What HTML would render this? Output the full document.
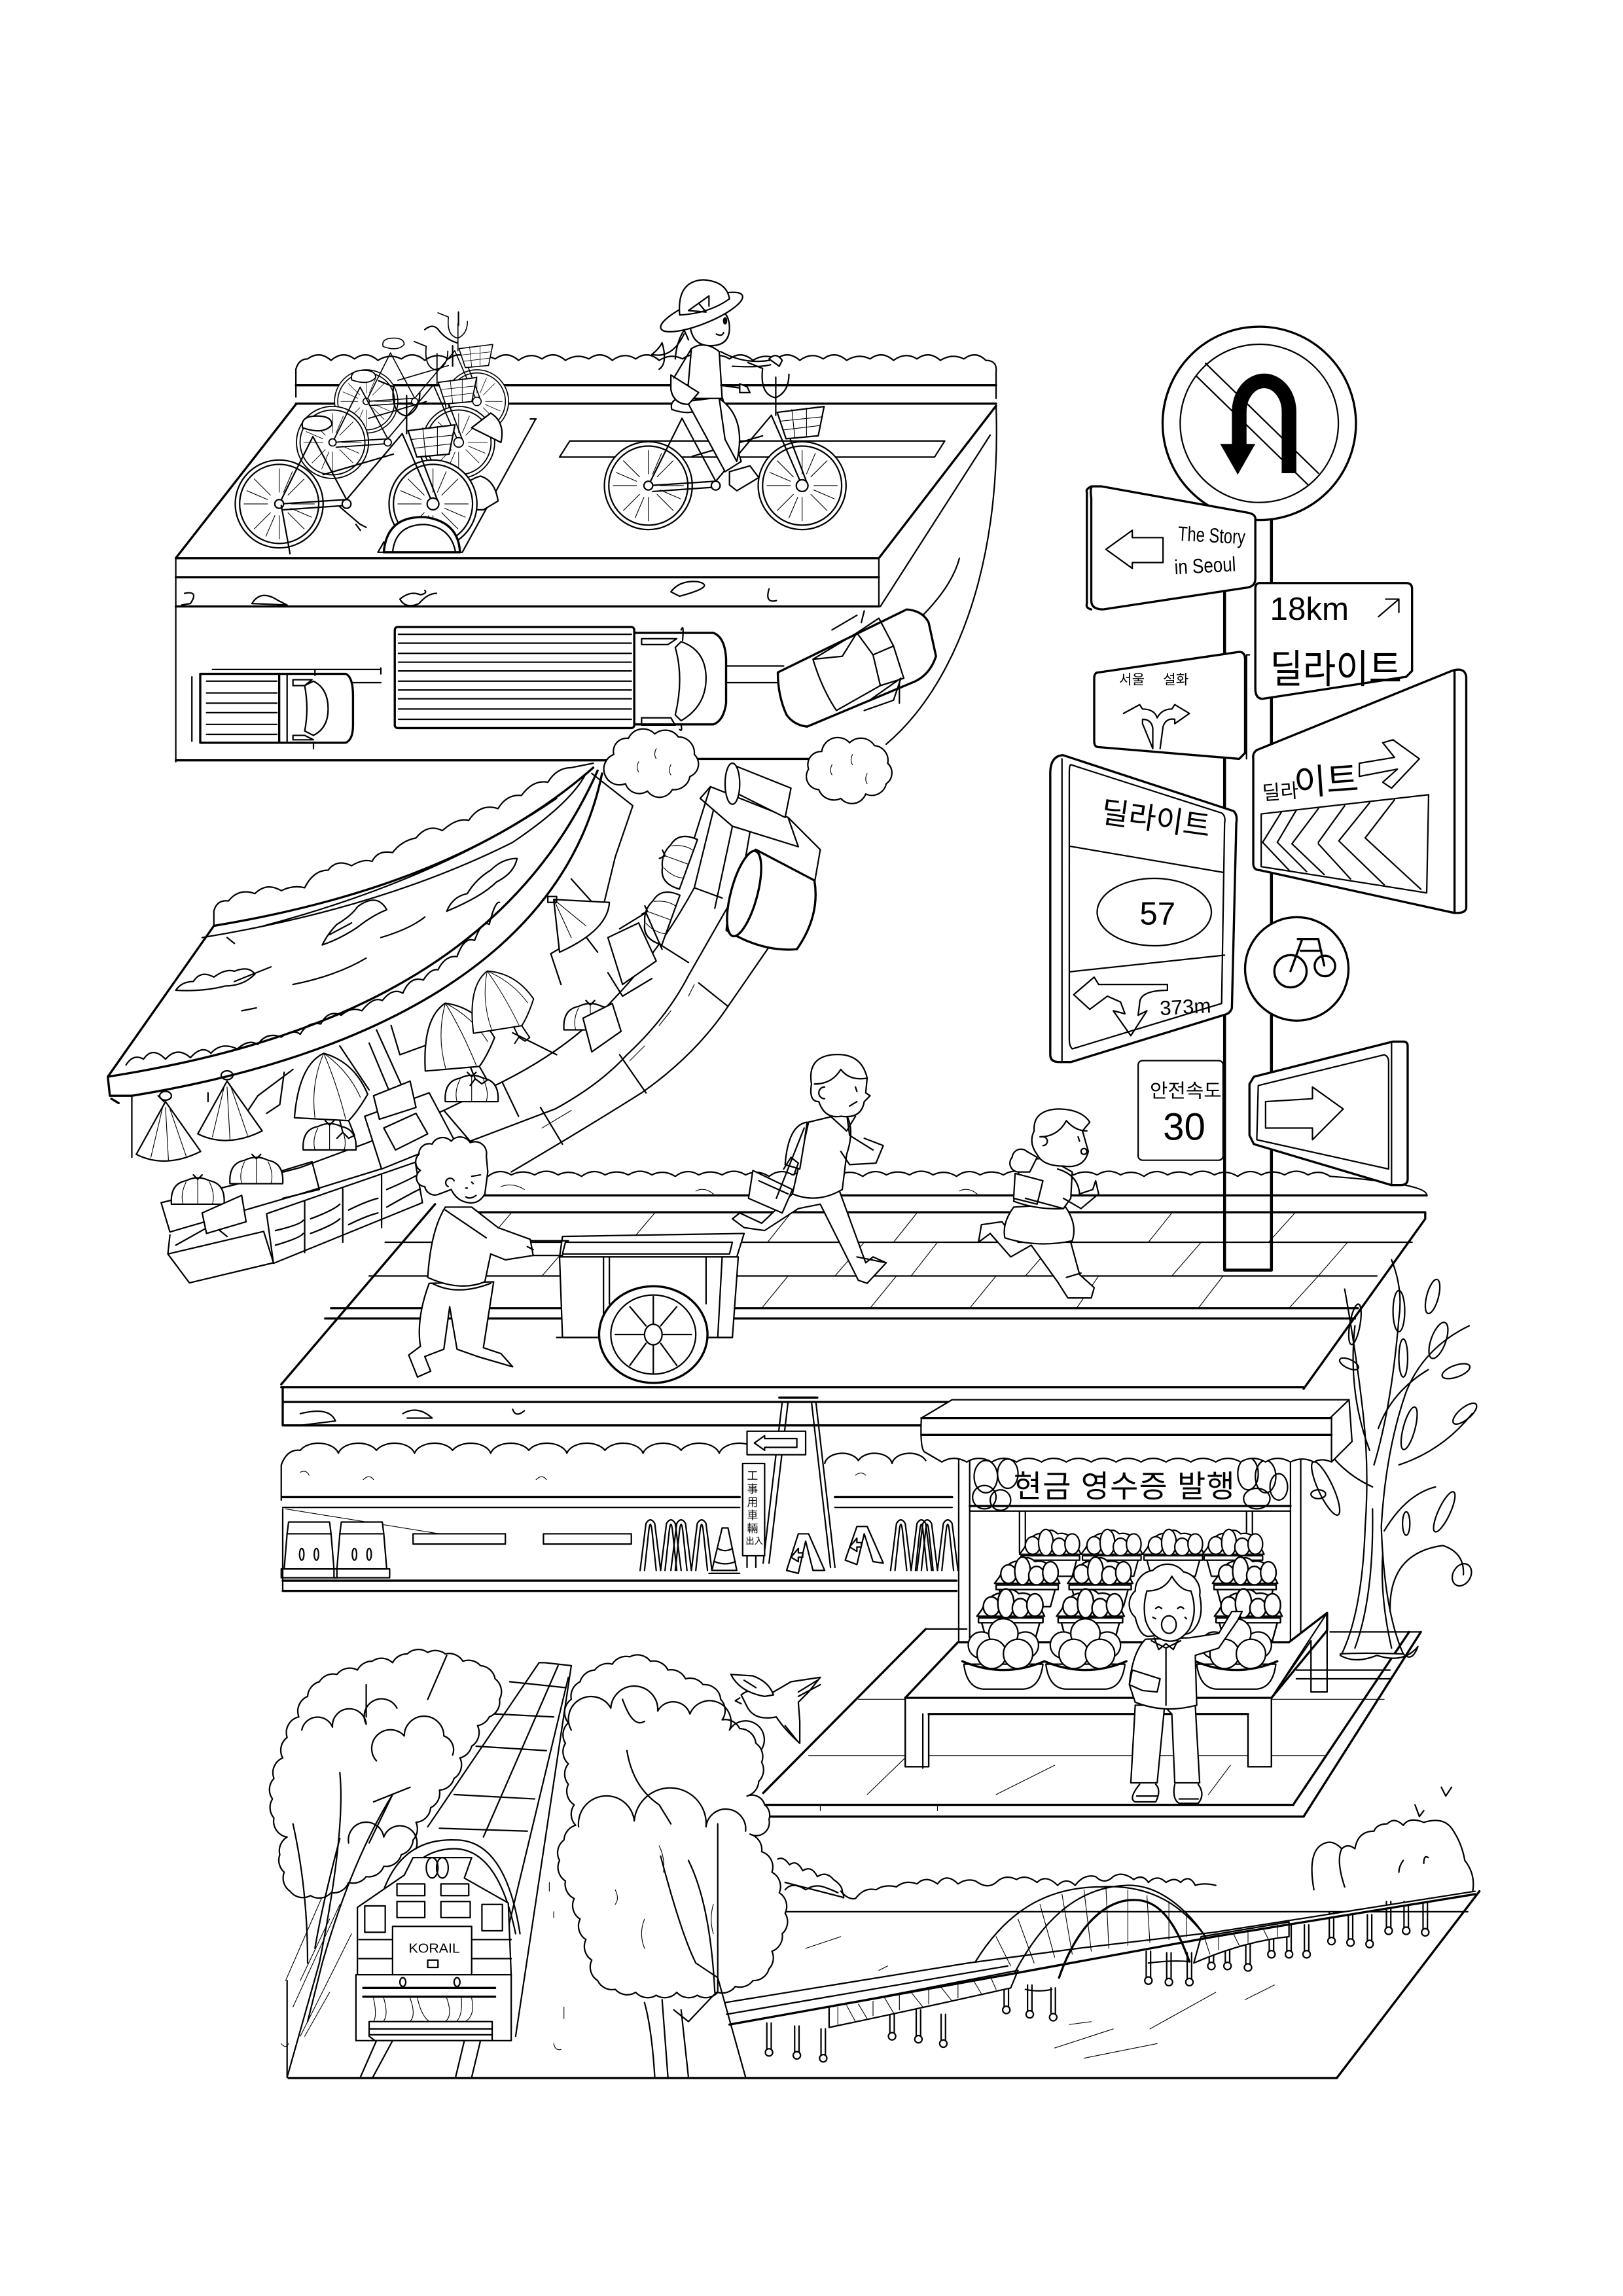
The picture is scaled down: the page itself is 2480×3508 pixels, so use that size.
<!DOCTYPE html>
<html><head><meta charset="utf-8"><style>
html,body{margin:0;padding:0;background:#fff}
svg{display:block}
.t{fill:#000;stroke:none;font-family:"Liberation Sans","Noto Sans CJK KR",sans-serif}
.f{fill:#fff}
.n{stroke-width:.5}
.b{stroke-width:1.5}
</style></head><body>
<svg xmlns="http://www.w3.org/2000/svg" width="2480" height="3508" viewBox="0 0 1108 1567.3">
<defs>
<g id="wheel"><circle r="30" class="f"/><circle r="27"/><path class="n" d="M0-8V-24M0 8V24M-8 0H-24M8 0H24M6-6L17-17M-6 6L-17 17M6 6L17 17M-6-6L-17-17M3-8L9-22M-3 8L-9 22M8 3L22 9M-8-3L-22-9"/></g>
<g id="bike"><use href="#wheel"/><use href="#wheel" x="105" y="0"/>
<path d="M0 0L46-3L23-46M0 0L23-46M3 4L46 1M46-3L84-48M30-20L78-34M84-48L105 0M90-50L109 0M87-48V-74M87-60Q76-62 78-80L68-84M87-60Q96-64 96-76"/>
<path class="f" d="M16-52Q14-60 26-60Q36-60 36-54Q30-47 16-52Z"/>
<path class="f" d="M88-50L120-54L116-34L94-32Z"/><path class="n" d="M90-44L119-47M92-38L117-41M98-52L100-33M108-53L108-33"/>
<circle cx="46" r="3" class="f"/><circle r="3" class="f"/><circle cx="105" r="4" class="f"/></g>
<g id="sack"><path class="f" d="M0-30L-20 6Q0 16 24 4Z"/><path class="n" d="M-2-26L-10 8M0-26L2 10M3-25L14 7"/><path d="M-4-34a4 3 0 1 1 8 0a4 3 0 1 1-8 0"/></g>
<g id="sack2"><path class="f" d="M-3-36Q-20-28-23 8L14 10Q20 4 27-8Q18-30-3-36Z"/><path class="n" d="M-3-36Q-12-15-9 8M-3-36Q6-15 12 9M-3-36Q14-24 22-6"/><path d="M8 10L10 18L6 22M14 10L18 20M10 18L14 22L18 20"/></g>
<g id="bag"><path class="f" d="M-18 0Q-19-14-8-16Q0-20 8-16Q19-14 18 0Z"/><path class="n" d="M-8-15Q-12-7-10 0M0-18V0M8-15Q12-7 10 0"/><path d="M-3-20L0-17L3-20"/></g>
<g id="fruit"><path class="f" d="M-21 0L-18-4Q-12-16-4-14Q0-19 5-14Q13-16 18-6L21 0Z"/><ellipse cx="-12" cy="-6" rx="5" ry="6" class="f"/><ellipse cx="-3" cy="-8" rx="5" ry="9" class="f"/><ellipse cx="6" cy="-5" rx="5" ry="6" class="f"/><ellipse cx="15" cy="-7" rx="5" ry="7" class="f"/>
<path class="f" d="M-20 1H20V4H-20ZM-18 4L-15 15H15L18 4Z"/></g>
<g id="orange"><path class="f" d="M-27 4Q-25 20-14 21H14Q25 20 27 4Z"/><circle cx="-15" cy="-9" r="9" class="f"/><circle cx="15" cy="-9" r="9" class="f"/><circle cx="0" cy="-17" r="10" class="f"/><circle cx="-8" cy="-3" r="10" class="f"/><circle cx="10" cy="-3" r="10" class="f"/><path class="b" d="M-28 2Q0 14 28 2"/></g>
<g id="pier"><path d="M-1.500-4V14M1.500-4V14"/><ellipse cy="16" rx="2.500" ry="2.500" class="f"/></g>
<g id="arch"><path d="M0 34L4 2Q7-3 10 2L14 34M3 34L6 6Q7-1 8 6L11 34M14 34L18 2Q21-3 24 2L28 34M17 34L20 6Q21-1 22 6L25 34"/></g>
<g id="barrel"><path class="f" d="M2 0H30L31 8L33 32H-1L1 8Z"/><path d="M1 8H31M-3 32H35V38H-3Z"/><ellipse cx="11" cy="22" rx="1.500" ry="4"/><ellipse cx="21" cy="22" rx="1.500" ry="4"/></g>
</defs>
<rect width="1108" height="1567.3" fill="#fff"/>
<g fill="none" stroke="#000" stroke-width="1" stroke-linecap="round" stroke-linejoin="round">

<!-- TOP ROAD -->
<path d="M202 271V252Q204 245 210 245q8-6 16 1q8-7 16-1q8-6 16 1q8-5 16-1q8-6 16 1q8-6 16-1q8-6 16 1q8-5 16-1q8-6 16 1q8-6 16-1q8-6 16 1q8-5 16-1q8-6 16 1q8-6 16-1q8-6 16 1q8-5 16-1q8-6 16 1q8-6 16-1q8-6 16 1q8-5 16-1q8-6 16 1q8-6 16-1q8-6 16 1q8-5 16-1q8-6 16 1q8-6 16-1q8-6 16 1q8-5 16-1q8-6 15 1Q681 246 680 254V272"/>
<path class="b" d="M202 263H680M202 275.500H680"/>
<path class="b" d="M120 381L202 276M680 277L600 381M120 381H600M120 394H600M120 414H600"/>
<path d="M120 381V520M600 381V414M676 297L601 414M680 277C684 390 650 470 605 508M655 381Q650 400 629 421"/>
<path class="b" d="M120 519H415M470 518H555"/>
<path d="M389 301H645L638 312H382ZM365.700 286L315.600 377H258L262 370M362 286H366"/>
<path d="M126 405Q136 403 130 412L124 413M172 412Q178 402 190 410L196 413ZM273 409Q280 403 287 406Q292 405 290 403M273 409Q277 416 286 412Q292 405 298 405M458 404Q464 396 476 397Q490 400 464 407ZM525 402Q522 412 530 410"/>
<!-- big truck -->
<rect x="269.500" y="428" width="163.500" height="69" rx="2" class="f b"/>
<path d="M272 433H431M272 439H431M272 446H431M272 452H431M272 458H431M272 465H431M272 471H431M272 477H431M272 484H431M272 491H431"/>
<path class="f b" d="M433 432H487Q495 435 495.700 450V480Q494 492 487 494.500H433Z"/>
<path d="M465 438Q482 444 482 463Q482 482 465 492L461 488Q467 463 461 442ZM438 436H462L456 440H438ZM438 490H458L461 495H438ZM465 430Q467 425 466 437M465 495Q466 500 464 498"/>
<!-- small truck -->
<path d="M145 457H260M260 456V460M240 466H260M496 454.600H535M496 466H531"/>
<rect x="136.700" y="460" width="54" height="47" class="f b"/>
<path d="M141 465H189M141 473H189M141 480H189M141 486.500H189M141 494.500H189M141 501.300H189M131 462V506"/>
<path class="f b" d="M190.600 460H236Q241 462 241 475V495Q241 505 236 507H190.600Z"/>
<path d="M214 465Q224 470 224 484Q224 497 214 502L208 499Q211 484 208 468ZM200 464H213L208 468H200ZM200 502H208L214 505H200ZM215 457L215 461M214 508L214 511M196 460V507"/>
<!-- car -->
<path class="f b" d="M531 459L619 416Q630 417 634 425L639 448Q635 460 625 465L551 496Q542 495 537 488Q531 475 531 459Z"/>
<path d="M555 450L585 432L596 447L601 468L571 485Q561 470 555 450ZM585 432L600 422L610 441L617 463L601 468M596 447L610 441M555 450L575 448L585 432M568 430L585 420M595 477L615 463L610 478L590 485M614 466V480M590 417L588 425"/>
<!-- puffs -->
<path class="f" d="M419 515a9 9 0 0 1 10-11a11 11 0 0 1 18-3a11 11 0 0 1 16 2a11 11 0 0 1 11 12a9 9 0 0 1-3 15a11 11 0 0 1-12 9a10 10 0 0 1-17 1a10 10 0 0 1-15-5a10 10 0 0 1-8-20Z"/>
<path class="f" d="M552 525a9 9 0 0 1 9-12a11 11 0 0 1 19-6a11 11 0 0 1 17 2a10 10 0 0 1 9 12a9 9 0 0 1-1 14a10 10 0 0 1-14 7a10 10 0 0 1-17 3a11 11 0 0 1-15-6a9 9 0 0 1-7-14Z"/>
<path class="n" d="M436 520q-2 4 0 7M448 511q-2 4 0 7M458 522q-2 4 0 7M568 522q-2 4 0 7M582 515q-2 4 0 7M592 528q-2 4 0 7"/>

<!-- BIKES PARKED -->
<g transform="translate(250 274) scale(.72)"><use href="#bike"/></g>
<g transform="translate(227 302) scale(.82)"><use href="#bike"/></g>
<path class="f" d="M335 282Q345 288 342 302L322 292Z"/>
<path class="f" d="M320 348Q310 330 328 325Q338 328 340 342L330 348Z"/>
<g transform="translate(190.600 344)"><use href="#bike"/></g>
<path class="f b" d="M262 377Q264 352 290 353Q313 356 314 377Z"/>
<path d="M268 377Q270 358 290 358Q308 360 311 377M192 345L198 378M232 346L246 358L250 360M243 358L246 362"/>
<path d="M290 225Q296 220 300 226Q305 232 312 234M313 213V222M309 250V236"/>

<!-- RIDER + BIKE -->
<g transform="translate(442.600 331.500)"><use href="#bike"/></g>
<path class="f" d="M469 274L493 271L506 315L495 322Z"/><path class="f" d="M491 272Q510 285 503 315L495 300Z"/>
<path class="f" d="M498 322L512 318L518 326L503 335L498 331Z"/>
<path class="f" d="M472 238Q481 232 491 240L493 272H469Z"/>
<path d="M492 240Q510 250 530 245M500 250Q518 251 526 249M492 263L506 265"/>
<path class="f" d="M458 256L477 268L470 276Q460 276 458 266Z"/>
<path d="M472 238L460 258"/>
<path class="f" d="M525 245Q530 240 534 246L532 250ZM505 262L510 264L512 268L505 268Z"/>
<path class="f" d="M471 221Q472 210 484 210Q498 210 498 224Q498 236 485 236Q472 236 471 221Z"/>
<path d="M467 228Q459 245 445 242Q450 238 452 234Q456 248 450 252M468 224Q462 232 461 245M462 218Q466 222 470 232"/>
<ellipse cx="495" cy="219" rx="1" ry="2" fill="#000"/><path d="M489 228Q493 230 494 227"/>
<ellipse cx="479" cy="213" rx="30" ry="8" transform="rotate(-22 479 213)" class="f"/>
<path class="f" d="M464 215Q462 192 480 191Q496 192 498 204Q484 214 464 215Z"/>
<path d="M470 212L477 207L482 213ZM477 207L484 202L484 209"/>

<!-- CURVED SECTION -->
<path d="M146 632V622Q148 614 156 615Q163 606 174 610Q182 602 192 608Q200 604 208 606Q214 594 224 594Q230 586 240 591Q248 586 254 588Q258 580 268 582Q274 574 284 572Q292 562 302 567Q312 558 320 560Q328 548 340 552Q346 542 356 543Q364 532 374 534Q380 524 390 524L405 521"/>
<path class="b" d="M146 632C230 618 330 590 405 524M73.600 735C200 715 345 668 408 526M90 748C250 722 385 655 411 528M73.600 735L146 632M73.600 735L75 748L90 748M76 750L81 753"/>
<path d="M138 640Q260 620 350 575Q390 548 400 528M155 640L160 644M180 632Q300 600 380 545"/>
<path d="M86 727q5-8 12-4q6-9 15 0q8-9 17-1q8-9 14-3q7-8 18-3q8-7 14-3q6-9 16-5q8-6 13-2q5-9 14-7q5-10 14-6q7-6 14-3q8-10 14-7q7-9 14-5q5-12 14-9q5-8 10-7q5-10 13-9q5-14 12-11q5-14 10-11q4-16 7-15"/>
<path d="M120 676q4-6 12-6q5-8 14-3q8-6 14-4q10-4 14 2q-8 8-20 8q-15 4-34 3ZM220 645q4-8 10-14q10-6 14-12q8-6 14-4q4 2 6 6q-10 4-20 12q-12 8-24 12ZM305 622q4-10 14-12q6-10 16-16q8-8 18-8q-2 10-14 16q-10 10-34 20ZM240 630L225 638M165 690L175 688M200 672q30-6 50-18M160 670L185 660M260 640q20-6 30-14"/>
<!-- shelf structure -->
<path d="M90 748V790M108 748L112 752M142 746V752"/>
<path d="M166 763L176 748L200 730M232 714L252 744M182 760L191 754L194 732M252 712L270 755M257 703L276 745M267 700L273 720L295 712M376 651L400 637M376 651L383 672M412 618L420 585L432 550L404 528M390 600L408 620M303 758L342 739Q390 715 418 683Q450 650 474 606L490 541"/>
<path d="M321 779L379 757Q410 740 428 720Q455 695 470 666L506 603L513 562M349 800Q400 770 438 746Q475 720 497 687L526 645L548 612"/>
<path d="M343 739L354 762M423 720L441 746M477 671L497 687M369 756L384 781M451 645L470 657M474 606L493 613M303 758L321 779M415 664L425 680L445 668M385 620L408 650M350 705L380 720"/>
<path d="M110 821L159 809L205 797L251 780L303 758M116 841L205 815L260 798M110 821L116 841"/>
<path class="f" d="M249 762L293 746L310 778L260.500 798Z"/><path d="M262 770L284 760L292 774L270 785Z"/>
<path class="f" d="M255 748L280 738L284 756L259 764Z"/>
<path class="f" d="M114.600 856L180 840.600L186.700 862L129.300 875.700Z"/>
<path class="f" d="M182 828.500L283.500 793.400L288.400 821L186.700 862.400Z"/>
<path d="M208 820V855M234 811.500V848M260.500 802V838M188 840Q205 836 207 833M188 850Q205 845 207 842M212 832Q228 826 232 822M212 842Q228 836 232 832M238 826Q250 820 258 818M238 836Q250 830 258 828M264 812Q278 806 285 802M264 824Q278 816 286 812M116 843L114.600 856M120 850L145 836L155 844M190 800L213 793L218 812L193 818"/>
<g transform="translate(113 782)"><use href="#sack"/></g>
<g transform="translate(155 768)"><use href="#sack"/></g>
<g transform="translate(135 822)"><use href="#bag"/></g>
<g transform="translate(175 808)"><use href="#bag"/></g>
<g transform="translate(225 785)"><use href="#bag"/></g>
<g transform="translate(322 752)"><use href="#bag"/></g>
<g transform="translate(403 703)"><use href="#bag"/></g>
<g transform="translate(224 755)"><use href="#sack2"/></g>
<g transform="translate(312 720) rotate(-8)"><use href="#sack2"/></g>
<g transform="translate(342 694) rotate(-12) scale(.9)"><use href="#sack2"/></g>
<path class="f" d="M378 614L416 616Q415 635 382 650Z"/><path class="n" d="M378 614L390 640M378 614L400 632M378 614L382 648"/><path d="M374 612h6v4h-6Z"/>
<g transform="translate(470 590) rotate(-70)"><use href="#bag"/></g>
<g transform="translate(458 628) rotate(-70)"><use href="#bag"/></g>
<path class="f" d="M138 828L165 816L168 834L141 842Z"/>
<path class="f" d="M415 640L436 630L448 656L425 672Z"/><path d="M423 634L441 623L452 648"/>
<path class="f" d="M398 695L418 685L424 704L404 718Z"/>
<path class="n" d="M430 724L440 714M450 700L458 690M470 680l4-8M370 770l20-12"/>
<!-- pots -->
<path class="f b" d="M496 635Q500 590 516 580L556 601Q560 625 544 648Q520 650 496 635Z"/>
<ellipse cx="508" cy="610" rx="9" ry="30" transform="rotate(15 508 610)" class="f b"/>
<path class="f" d="M478 545L485 537L538 558L545 578L500 564Z"/>
<path d="M485 537L474 572M500 564L488 620M538 558L560 580L556 603"/>
<path class="f" d="M500 522L540 538L536 558L500 540Z"/><ellipse cx="500" cy="535" rx="5" ry="14" class="f"/>

<!-- MIDDLE ROAD -->
<path d="M333 803q8-6 16-1q8-4 16 0q8-5 16 0q8-4 16 1q8-6 16-1q8-4 16 0q8-5 16 0q8-4 16 1q8-6 16-1q8-4 16 0q8-5 16 0q8-4 16 1q8-6 16-1q8-4 16 0q8-5 16 0q8-4 16 1q8-6 16-1q8-4 16 0q8-5 16 0q8-4 16 1q8-6 16-1q8-4 16 0q8-5 16 0q8-4 16 1q8-6 16-1q8-4 16 0q8-5 16 0q8-4 16 1q8-6 16-1q8-4 16 0q8-5 16 0q8-4 16 1q8-6 16-1q8-4 16 0q8-5 16 0q8-4 15 1Q975 808 974 816"/>
<path class="n" d="M475 813q6-3 12 2M655 813q6-3 12 2M342 810q8-3 16 2"/>
<path class="b" d="M320 816H974M310 827.500H973M192 945L297 822M973 828V832L890 948M192 947H890M194 957H890M194 973H630M193 947V973"/>
<path d="M263 848H964M252 871H940"/>
<path class="b" d="M226 893H927M222 900H925"/>
<path class="n" d="M349 828L332 848M390 848L370 871M447 828L430 848M540 828L524 848M590 848L570 871M538 871L520 893M626 828L610 848M700 828L684 848M640 848L622 871M800 828L784 848M720 848L700 871M612 871L594 893M820 848L800 871M884 828L866 848M920 848L900 871M750 871L735 893M900 871L880 893M835 871L818 893M680 871L662 893"/>
<path d="M205 965Q225 960 229 970L205 973M275 965Q285 959 295 968H278M350 962Q352 968 358 963"/>

<!-- cart + man -->
<path class="f" d="M384 844L508 842L503 858H382Z"/><path d="M386 848H500L498 856H384ZM362 847L388 847M362 857H384"/>
<path class="f" d="M382 858H504L500 913H384Z"/>
<path d="M382 913H398M480 913H500M412 858V913M493 858L490 913M416 858V890M482 858V890M380 913H500"/>
<ellipse cx="446" cy="911" rx="37" ry="33" class="f b"/><ellipse cx="446" cy="911" rx="29" ry="27"/><ellipse cx="446" cy="911" rx="6" ry="7"/>
<path d="M446 885V904M446 918V938M420 911H440M452 911H472M430 892L441 905M451 917L462 932M462 892L451 905M441 917L430 932"/>
<path class="f" d="M293 876Q284 900 287 919L279 925L285 940L294 936L290 926L303 921L307 892L312 921L326 926L350 933L342 924L330 920L337 875Z"/>
<path class="f" d="M304 824Q294 840 292 872Q314 882 331 875L335 856L345 860L364 857L362 846L340 838L322 824Z"/>
<path class="f" d="M290 810a6 6 0 0 1-3-11a7 7 0 0 1-1-11a7 7 0 0 1 9-7a8 8 0 0 1 13-2a8 8 0 0 1 13 1a8 8 0 0 1 11 9L333 800L331 815Q327 822 320 821Q312 820 308 812L300 815a7 7 0 0 1-10-5Z"/>
<path d="M310 806a3 3 0 1 0-4 4M322 803L328 802M325 816Q321 819 318 817M322 807l1 1M318 811l1 0M304 826L332 845M295 876Q312 885 335 876M360 851L364 853"/>

<!-- man running -->
<path class="f" d="M541 815L520 835L505 828L500 832L508 838L522 840L545 825L560 822L586 874L592 876L605 862L596 858L591 862L572 810Z"/>
<path class="f" d="M552 766L577 760Q584 770 578 788L575 812Q558 822 541 815Z"/>
<path d="M585 858L605 862M578 760L580 775L596 785M590 777L603 782L598 794L580 795L574 786"/>
<path class="f" d="M551 766Q538 768 536 795L546 798L549 780Z"/>
<path class="f" d="M514 799L541 812L534 828L511 818Z"/><path d="M535 798L540 790L545 794L542 802M518 806L538 815M549 770L530 818"/>
<path class="f" d="M554 740Q551 722 568 720Q588 718 592 736L591 746L594 748L590 752Q588 764 574 762Q563 764 559 752Q552 752 554 740Z"/>
<path d="M556 740Q568 740 574 730Q580 738 592 736M563 742a4 4 0 1 0 0 8M584 742l1 3M585 752L580 755M567 762L578 772L584 762"/>

<!-- girl -->
<path class="f" d="M695 848L684 834L670 836L668 848L676 842L690 858L704 850L722 875L729 886L745 886L747 879L737 870L731 848Z"/>
<path class="f" d="M692 824Q684 835 686 845Q708 852 732 847Q736 835 726 822Z"/>
<path class="f" d="M696 797Q700 790 716 791L732 800L731 818L726 825Q708 826 692 820Z"/>
<path d="M722 798Q736 802 737 815L746 812L748 806L750 815L738 825L726 818"/>
<path class="f" d="M693 801L712 806L708 822L692 818ZM691 790a6 6 0 0 1 10-4l7 4l-5 10l-8 0a6 6 0 0 1-4-10Z"/>
<path class="f" d="M706 772Q705 758 722 757Q738 757 744 766L739 772L743 786Q740 798 726 796Q712 796 708 788Q702 780 706 772Z"/>
<path d="M710 776Q722 776 728 765Q734 772 742 772M736 776l1 3M738 786a2 2 0 1 0 4 0a2 2 0 1 0-4 0M712 782a3 3 0 1 0 0-6M700 818L726 825M728 872L738 869"/>

<!-- POLE + SIGNS -->
<path d="M836 350V867H868V350" stroke-width="2"/>
<path stroke-width="2" d="M836 867H868"/>
<circle cx="859.700" cy="289" r="66" class="f b"/><circle cx="859.700" cy="289" r="54"/>
<path d="M817 257L893 331M823 248L900 323"/>
<path fill="none" stroke-width="10" stroke-linecap="butt" d="M880 323V281A17 21 0 0 0 846 281V305"/>
<path fill="#000" stroke="none" d="M833 303H857L845 324Z"/>
<path class="f b" d="M746 332Q744 332 745 340V410Q745 416 753 416L852 401Q857 400 857 395V354Q857 351 852 350L752 332ZM742 336Q741 334 745 332M742 336V412Q741 415 745 416"/>
<path d="M755 375L773 362V367H794V384H773V388Z"/>
<text class="t" font-size="14" transform="translate(804 369) rotate(3)" textLength="46" lengthAdjust="spacingAndGlyphs">The Story</text>
<text class="t" font-size="14" transform="translate(802 392) rotate(-3)" textLength="42" lengthAdjust="spacingAndGlyphs">in Seoul</text>
<path class="f b" d="M860 398H960Q964 398 964 402V458L960 462L862 477Q857 477 857 470V402Q857 398 860 398Z"/>
<text class="t" font-size="22" x="867" y="423">18km</text><path d="M941 421L955 409M946 409H955V418"/>
<text class="t" font-size="27" x="867" y="466" textLength="90" lengthAdjust="spacingAndGlyphs">딜라이트</text>
<path class="f b" d="M750 459L846 445Q850 445 850 450V514L846 518L750 510Q747 510 747 506V463Q747 459 750 459Z"/>
<path d="M853 447L851 447M851 447V518"/>
<text class="t" font-size="9.500" x="764" y="467">서울</text><text class="t" font-size="9.500" x="794" y="467">설화</text>
<path d="M767 487L778 481L780 484Q788 484 790 490Q793 484 800 484L802 481L812 487L802 494V491Q796 490 794 496L792 511M787 511V497Q786 491 780 491V494Z"/>
<!-- big left sign -->
<path class="f b" d="M725.700 515.500L842 553.600Q845 556 844 562L841 688Q840 692 835 693L731 725H723Q717 725 717 720V528Q717 516 725.700 515.500Z"/>
<path d="M725 518V724"/>
<path d="M731 522L834 555Q837 557 836 562L834 685L732 716Q730 714 730 710V528Q730 522 731 522ZM730 577.600L835 595.500M730 663.400L836 652"/>
<text class="t" font-size="20.500" transform="translate(751 561) rotate(8)" textLength="75" lengthAdjust="spacingAndGlyphs">딜라이트</text>
<ellipse cx="788" cy="622.600" rx="39" ry="23"/>
<text class="t" font-size="22" x="778" y="631">57</text>
<path d="M733 679L747 667L750 672H797V676Q778 676 778 685L777 693L783 690L772 707L760 690L768 692L765 684L756 680L744 689Z"/>
<text class="t" font-size="14" transform="translate(792 693) rotate(-3)">373m</text>
<!-- big right sign -->
<path class="f b" d="M858 512L991 458Q1000 455 1001 462V620Q1000 624 992 623L860 594Q856 594 855.600 590V518Q855 514 858 512Z"/>
<path class="b" d="M993 458V622"/>
<text class="t" font-size="13.500" transform="translate(862 546) rotate(-4)">딜라</text><text class="t" font-size="24" transform="translate(884 543) rotate(-4)">이트</text>
<path d="M928 521L952 517L944 507L951 505L969 518L950 538L944 534L954 525L928 530Z"/>
<path d="M861 555.600L975.300 542.500L974 609.500L861 591.600Z"/>
<path d="M862 575L875 554M862 575L880 594M872 575L885 553M872 575L892 595M882 576L900 552M882 576L904 597M900 575L918 550M900 576L922 600M914 574L935 548M914 574L945 604M932 572L952 546M932 572L970 607"/>
<!-- cycle -->
<circle cx="885.300" cy="661.400" r="35.300" class="f b"/>
<circle cx="881" cy="663" r="11" class="b"/><circle cx="904.500" cy="659.400" r="7" class="b"/>
<path class="b" d="M881 663L889 641H900L904 659M886 641H893M888 649H902"/>
<!-- arrow sign -->
<path class="f b" d="M856 735L951 711H958Q961 711 961 714V805Q961 809 956 809L950 809L856 781L853 775V740Z"/>
<path d="M950 711V808"/><path d="M859 741L945 720Q948 721 948 725V798L858 778L859 741Z"/>
<path d="M864 752L896 750V742L917 757L896 778V770H864Z"/>
<!-- 30 -->
<rect x="777" y="724" width="58" height="68" rx="3" class="f"/>
<text class="t" font-size="13" x="785" y="749" textLength="49" lengthAdjust="spacingAndGlyphs">안전속도</text>
<text class="t" font-size="26" x="794" y="778">30</text>

<!-- LOWER SEGMENT -->
<path d="M192 1024V1000Q196 989 205 990a14 9 0 0 1 26 2a14 9 0 0 1 26-2a14 9 0 0 1 26 2a14 9 0 0 1 26-2a14 9 0 0 1 26 2a14 9 0 0 1 26-2a14 9 0 0 1 26 2a14 9 0 0 1 26-2a14 9 0 0 1 26 2a14 9 0 0 1 26-2a14 9 0 0 1 26 2a14 9 0 0 1 26-2M563 999a12 8 0 0 1 23-2a12 8 0 0 1 23 2a12 8 0 0 1 23-2"/>
<path class="n" d="M205 1005q4-2 6 2M248 1010q4-4 7 0M366 1010q4-4 7 0M584 1007q4-3 7 0"/>
<path class="b" d="M193 1022H505M570 1022H650"/><path d="M193 1029H505M570 1029H650"/><path class="n" d="M195 1030L300 1047"/>
<rect x="282" y="1047" width="63" height="7"/><rect x="371" y="1047" width="60" height="7"/>
<path class="b" d="M193 1079H653M193 1086H653"/><path d="M193 1030V1086"/>
<use href="#barrel" x="195" y="1039"/><use href="#barrel" x="231" y="1039"/>
<use href="#arch" x="437" y="1038"/><use href="#arch" x="458" y="1038"/><use href="#arch" x="608" y="1038"/><use href="#arch" x="626" y="1038"/>
<path class="f" d="M493 1043H497L503 1072H486Z"/><path d="M484 1074H505M490 1057Q495 1060 500 1057M488 1066Q495 1069 502 1066"/>
<path class="b" d="M532 954H558"/><path d="M532 957H558M534 957L521 1067M538 957L525 1067M554 957L567 1070M557 957L570 1070"/>
<rect x="510" y="977" width="40" height="16" class="f"/><path d="M515 985L522 980V982H544V988H522V990Z"/>
<rect x="507" y="999" width="15" height="63" class="f"/>
<text class="t" font-size="7.500" x="510" y="1010">工</text><text class="t" font-size="7.500" x="510" y="1019">事</text><text class="t" font-size="7.500" x="510" y="1028">用</text><text class="t" font-size="7.500" x="510" y="1037">車</text><text class="t" font-size="7.500" x="510" y="1046">輛</text><text class="t" font-size="6" x="509" y="1054">出入</text>
<path d="M516 1062V1070M510 1062V1070"/>
<path class="f" d="M537 1072L545 1047H552L563 1072H555L550 1052L545 1074Z"/><path class="f" d="M577 1065L585 1042H592L603 1067L596 1066L590 1047L585 1068Z"/>
<path d="M540 1063l5-6v3h3v3h-3v3ZM580 1056l5-6v3h3v3h-3v3Z"/>

<!-- TREE RIGHT -->
<path d="M916 1129Q930 1100 932 1042Q935 1000 930 960Q926 925 918 880M958 1129Q945 1100 943 1042Q946 990 960 950Q972 920 1003 905M938 1000Q950 960 955 900Q958 880 950 860M937 1015Q915 1005 903 985M955 1000Q985 990 1005 965M945 1045Q960 1020 980 1015M949 1100Q948 1060 985 1055Q1000 1060 999 1075M941 975Q950 950 975 935M935 990Q920 950 925 905M925 1125Q938 1090 937 1030M950 1125Q942 1090 944 1060"/>
<ellipse cx="925" cy="904" rx="3.500" ry="14" transform="rotate(10 925 904)"/><ellipse cx="921" cy="931" rx="7" ry="3" transform="rotate(25 921 931)"/><ellipse cx="955" cy="895" rx="4" ry="14"/><ellipse cx="978" cy="885" rx="4" ry="12" transform="rotate(15 978 885)"/><ellipse cx="994" cy="936" rx="10" ry="4" transform="rotate(-20 994 936)"/><ellipse cx="1000" cy="965" rx="10" ry="4" transform="rotate(-40 1000 965)"/><ellipse cx="982" cy="915" rx="5" ry="13" transform="rotate(20 982 915)"/><ellipse cx="958" cy="927" rx="3" ry="13"/><ellipse cx="905" cy="1016" rx="5" ry="20" transform="rotate(-25 905 1016)"/><ellipse cx="900" cy="1020" rx="5" ry="3"/><ellipse cx="986" cy="1032" rx="4" ry="15" transform="rotate(25 986 1032)"/><ellipse cx="960" cy="1040" rx="2.500" ry="8"/><ellipse cx="998" cy="1075" rx="6" ry="8" transform="rotate(30 998 1075)"/><ellipse cx="962" cy="975" rx="4" ry="15" transform="rotate(15 962 975)"/>

<!-- STALL GROUND -->
<path class="b" d="M521 1224L632 1112M970 1114L890 1240M962 1114L883.500 1231"/>
<path d="M632 1112H660M908 1114H970M885 1140L949 1140M885 1146H949"/>
<path class="b" d="M510 1232H883M500 1240H890"/>
<path class="n" d="M586 1160H620M552 1198.500H905M868 1160H945M620 1198L592 1225M720 1205L680 1225M840 1205L825 1225M560 1232V1236M640 1232V1236"/>
<path class="f" d="M915 1129Q930 1128 958 1129Q964 1135 968 1124Q958 1136 940 1130Q925 1136 915 1130"/>
<!-- stall frame -->
<path d="M654.500 995V1121M662 995V1118M881 995V1120M888 995V1120M696 1032V1060M700 1032V1060M851 1032V1060M855 1032V1060"/>
<path class="b" d="M662 1028H881"/><path d="M662 1031.500H881"/>
<text class="t" font-size="21" x="692" y="1022" letter-spacing="0.500">현금 영수증 발행</text>
<ellipse cx="673" cy="1008" rx="8" ry="11"/><ellipse cx="688" cy="1006" rx="7" ry="10"/><ellipse cx="672" cy="1022" rx="8" ry="8"/><ellipse cx="683" cy="1024" rx="7" ry="7"/>
<ellipse cx="852" cy="1006" rx="7" ry="11"/><ellipse cx="864" cy="1008" rx="7" ry="11"/><ellipse cx="873" cy="1015" rx="6" ry="9"/><ellipse cx="858" cy="1023" rx="9" ry="7"/>
<!-- awning -->
<path class="f" d="M650 955.500H921L923 984L909 998Q902 995 897 998Q889 994 881 998q-9-5-17 0q-9-5-17 0q-9-5-17 0q-9-5-17 0q-9-5-17 0q-9-5-17 0q-9-5-17 0q-9-5-17 0q-9-5-17 0q-9-5-17 0q-9-5-17 0q-9-5-17 0q-9-5-17 0q-9-5-17 0L631 991Q628 988 629 968Z"/>
<path class="b" d="M629 968H909M629 979.500H909"/><path d="M908 968L921 955.500M909 968V997"/>
<!-- fruit rows -->
<use href="#fruit" x="717" y="1061"/><use href="#fruit" x="759" y="1061"/><use href="#fruit" x="801" y="1061"/><use href="#fruit" x="842" y="1061"/>
<use href="#fruit" x="704" y="1081" transform="translate(-45 -65) scale(1.06)"/><use href="#fruit" x="751" y="1081" transform="translate(-45 -65) scale(1.06)"/><use href="#fruit" x="850" y="1081" transform="translate(-51 -65) scale(1.06)"/>
<use href="#fruit" x="690" y="1103" transform="translate(-69 -110) scale(1.1)"/><use href="#fruit" x="744" y="1103" transform="translate(-74 -110) scale(1.1)"/><use href="#fruit" x="852" y="1103" transform="translate(-85 -110) scale(1.1)"/>
<!-- table -->
<path class="f b" d="M618 1159L654 1121H880L906 1101V1113L868 1159Z"/>
<path class="f" d="M618 1159H868V1206H852V1170H634V1206H618Z"/>
<path class="b" d="M618 1159H868M634 1170H852"/><path d="M618 1159V1206H634V1170M630 1170V1207M852 1170V1206H868V1159L906 1101V1155H895V1120L868 1159"/>
<use href="#orange" x="685" y="1132"/><use href="#orange" x="741" y="1132"/><use href="#orange" x="844" y="1132"/>
<!-- woman -->
<path class="f" d="M775 1164L772 1217H790L795 1165L800 1170L802 1217H819L816 1164Z"/>
<path d="M778 1218Q770 1228 775 1230H789Q793 1222 789 1218M802 1218Q800 1228 805 1231H818Q823 1225 818 1218M776 1226H790M805 1228H818"/>
<path class="f" d="M782 1119Q773 1128 771 1150L775 1162Q795 1170 817 1164L816 1130L832 1125L845 1106L848 1100L841 1100L832 1115L812 1118Z"/>
<path class="f" d="M773 1140L792 1146L790 1155L780 1154L771 1150Z"/>
<path d="M796 1125V1164M786 1120L796 1125L806 1120M788 1118L791 1126L796 1122L801 1126L805 1118"/>
<path class="f" d="M775 1104a12 12 0 0 1 0-18a14 14 0 0 1 12-14a14 14 0 0 1 21 1a14 14 0 0 1 11 16q3 14-3 22q-4 6-10 4l-22 2q-6 0-9-13Z"/>
<path class="f" d="M783 1086Q795 1086 800 1076Q806 1086 813 1086Q818 1100 812 1112Q805 1122 796 1120Q786 1118 782 1106Q780 1096 783 1086Z"/>
<ellipse cx="798" cy="1109" rx="5" ry="6" class="f"/><path d="M789 1098q2-2 4 0M804 1098q2-2 4 0M787 1104l2 1M809 1104l1 1"/>

<!-- BOTTOM -->
<path class="b" d="M197 1418.500H912.600M912.600 1418.500L1010 1291"/>
<path d="M196 1352V1418M536 1305H1002"/>
<path d="M531 1269q4-2 8 4q5-4 9 4q6-4 10 4q6-4 11 2q6 4 6 8q2 6 0 4L536 1285M536 1290q5-6 14 0q6-4 12-2q6 2 10 4M574 1291q5 6 10 5q6-8 14-6q6-4 14-2q6-5 14-2q6-6 14 0q6-8 14 0q6-4 12-2q8 6 14 1q6-6 14-2q6-4 14 2q6-6 14 2q6-6 12 0q6-8 14-6q6 6 12 0q6-4 14 2q6-4 10 2q6-6 12 0q6-4 10 0q6-6 10 2q6-2 14 0"/>
<path d="M897 1290Q892 1262 905 1258Q910 1256 916 1262Q920 1258 925 1262Q927 1250 938 1250Q940 1245 947 1245Q952 1240 958 1246Q962 1240 972 1244Q985 1240 991 1248Q998 1258 1000 1270Q1008 1280 1005 1293"/>
<path d="M916 1262Q912 1270 918 1288M958 1270q-3 4-3 8M975 1268q-3-2-3 4M984 1220l3 6l4-6M966 1232l3 8l3-4"/>
<!-- bridge piers -->
<use href="#pier" x="525" y="1385"/><use href="#pier" x="544" y="1387"/><use href="#pier" x="562" y="1389"/>
<use href="#pier" x="609" y="1374"/><use href="#pier" x="627" y="1376"/><use href="#pier" x="644" y="1379"/>
<use href="#pier" x="687" y="1356"/><use href="#pier" x="703" y="1359"/><use href="#pier" x="719" y="1361"/>
<use href="#pier" x="784" y="1336"/><use href="#pier" x="798" y="1337"/><use href="#pier" x="812" y="1337"/>
<use href="#pier" x="827" y="1326"/><use href="#pier" x="838" y="1326"/><use href="#pier" x="852" y="1327"/>
<use href="#pier" x="868" y="1318"/><use href="#pier" x="880" y="1318"/><use href="#pier" x="892" y="1318"/>
<use href="#pier" x="909" y="1309"/><use href="#pier" x="922" y="1310"/><use href="#pier" x="935" y="1311"/>
<use href="#pier" x="948" y="1302"/><use href="#pier" x="960" y="1302"/><use href="#pier" x="973" y="1303"/>
<!-- bridge deck -->
<path class="f" stroke="none" d="M496 1369L693 1341L829 1320L1007 1291L1007 1293L829 1322L693 1347L498 1382Z"/>
<path class="f" d="M566 1370V1384Q628 1371 690 1357L695 1345L566 1370Z"/>
<path class="f" d="M815 1340Q850 1325 880 1322V1312L820 1322Z"/>
<path class="n" d="M572 1370V1382M578 1369L584 1380M586 1368L592 1378M596 1366V1376M604 1364L610 1374M614 1362V1372M622 1360L630 1370M634 1358V1368M642 1356L650 1366M654 1354V1364M664 1351L670 1361M676 1349L680 1358M822 1322L826 1334M832 1320V1331M842 1320L846 1328M852 1318V1326M862 1316L866 1324M872 1314V1322"/>
<path class="b" d="M498 1382L693 1347L829 1322L1007 1293"/>
<path d="M495 1367L661 1340L736 1330L829 1319L1007 1291M496 1375L688 1342"/>
<path d="M666 1339C690 1300 720 1288 752 1288C790 1286 810 1305 823 1322M693 1346C715 1305 740 1288 769 1287C795 1286 815 1310 823 1322"/><path class="b" d="M723 1350C735 1315 755 1296 775 1297C795 1297 805 1320 812 1339"/>
<path class="n" d="M680 1322L690 1342M695 1310L706 1340M710 1300L720 1336M725 1293L732 1334M740 1290L745 1332M755 1288L757 1330M770 1290V1328M783 1294L785 1326M798 1298L798 1324M810 1306V1322"/>
<path d="M700 1358Q709 1360 718 1358M784 1340Q800 1338 812 1339"/>
<path class="n" d="M550 1330L574 1322M600 1345L606 1342M785 1385L830 1360M850 1365L870 1355M720 1398L760 1385M740 1405L790 1395M730 1382L745 1380"/>

<!-- TRAIN -->
<path d="M292 1247L368 1135H372L390 1137L352 1390M330 1254L381 1137M388 1145L340 1345M348 1148L386 1152M338 1170L378 1172M325 1192L373 1195M310 1225L365 1228M300 1248L360 1250"/>
<path d="M262 1290Q275 1255 310 1256Q345 1255 355 1320M270 1290Q285 1262 310 1262Q340 1262 352 1320"/>
<path class="f" d="M244 1349V1302L276 1280L282 1268H322L317 1282L347 1299L349 1349Z"/>
<path class="f" d="M243 1348H349V1393H243Z"/>
<path d="M271 1286H290V1294H271ZM301 1286H320V1294H301ZM271 1298H290V1309H271ZM301 1298H321V1309H301ZM249 1301H263V1319H249ZM329 1300H343V1318H329ZM268 1315H322V1348M268 1315V1348M245 1324H268M322 1324H349M245 1337H268M322 1337H349"/>
<ellipse cx="295" cy="1275" rx="4" ry="7"/><ellipse cx="302" cy="1275" rx="4" ry="7"/>
<text class="t" font-size="9" x="279" y="1333" textLength="35" lengthAdjust="spacingAndGlyphs">KORAIL</text>
<rect x="292" y="1338" width="7" height="5"/><ellipse cx="275" cy="1353" rx="2" ry="3"/><ellipse cx="312" cy="1353" rx="2" ry="3"/>
<path class="b" d="M248 1357H338M248 1363H338"/>
<path class="n" d="M255 1364Q258 1378 254 1381M262 1364Q266 1378 260 1381M280 1364Q285 1378 278 1381M285 1364Q288 1378 295 1381M305 1364Q310 1378 302 1381M315 1364Q316 1378 310 1381M322 1364Q325 1378 315 1381"/>
<path class="f" d="M252 1380H336V1393H256L252 1390Z"/><path d="M252 1385H336M252 1389H336M256 1393H334M257 1393L246 1418M268 1393L254.500 1418M317 1393L311 1418M328 1393L322 1418"/>
<path class="n" d="M195 1352L222 1290M200 1370L232 1300M205 1390L240 1320M205 1352L225 1310M208 1390L225 1360"/>

<!-- LEFT TREES -->
<path class="f" d="M187 1241A11 11 0 0 1 186 1228A11 11 0 0 1 187 1214A11 11 0 0 1 193 1200A11 11 0 0 1 196 1186A11 11 0 0 1 204 1172A11 11 0 0 1 210 1158A11 11 0 0 1 218 1148A11 11 0 0 1 230 1143A11 11 0 0 1 244 1140A11 11 0 0 1 254 1134A11 11 0 0 1 268 1135A11 11 0 0 1 278 1129A11 11 0 0 1 292 1128A11 11 0 0 1 304 1129A11 11 0 0 1 316 1134A11 11 0 0 1 328 1137A11 11 0 0 1 338 1146A11 11 0 0 1 341 1160A11 11 0 0 1 334 1172A11 11 0 0 1 326 1178A11 11 0 0 1 322 1192A11 11 0 0 1 314 1200A11 11 0 0 1 310 1214A11 11 0 0 1 300 1222A11 11 0 0 1 294 1234A11 11 0 0 1 284 1244A11 11 0 0 1 282 1256A11 11 0 0 1 274 1266A11 11 0 0 1 262 1274A11 11 0 0 1 250 1281A11 11 0 0 1 238 1285A11 11 0 0 1 226 1292A11 11 0 0 1 212 1294A11 11 0 0 1 198 1291A11 11 0 0 1 194 1278A11 11 0 0 1 191 1266A11 11 0 0 1 196 1254A11 11 0 0 1 187 1241Z"/>
<path d="M206 1181A11 11 0 0 1 227 1179A11 11 0 0 1 250 1177A11 11 0 0 1 271 1166M257 1202A12 12 0 0 1 276 1185A12 12 0 0 1 303 1185A10 10 0 0 1 309 1198M238 1258A12 12 0 0 1 262 1254A10 10 0 0 1 284 1262M305 1130L292 1160M250 1150V1172"/>
<path d="M232 1210Q236 1250 218 1340L196 1418M200 1245Q210 1290 210 1340M268 1225Q240 1270 220 1340L210 1380M255 1230L280 1220M268 1225L252 1258M232 1255Q220 1300 215 1330"/>
<!-- MIDDLE TREE -->
<path class="f" d="M390 1160A11 11 0 0 1 396 1148A11 11 0 0 1 406 1140A11 11 0 0 1 418 1136A11 11 0 0 1 430 1131A11 11 0 0 1 444 1134A11 11 0 0 1 456 1140A11 11 0 0 1 468 1146A11 11 0 0 1 480 1150A11 11 0 0 1 492 1160A11 11 0 0 1 493 1174A11 11 0 0 1 505 1180A11 11 0 0 1 516 1190A11 11 0 0 1 520 1203A11 11 0 0 1 518 1216A11 11 0 0 1 510 1226A9 9 0 0 1 522 1232A9 9 0 0 1 525 1242A9 9 0 0 1 512 1252A11 11 0 0 1 520 1264A11 11 0 0 1 527 1278A11 11 0 0 1 532 1292A11 11 0 0 1 536 1306A11 11 0 0 1 534 1320A11 11 0 0 1 527 1332A11 11 0 0 1 525 1344A11 11 0 0 1 514 1352A11 11 0 0 1 502 1356A11 11 0 0 1 490 1360A11 11 0 0 1 476 1362A11 11 0 0 1 462 1360A11 11 0 0 1 448 1362A11 11 0 0 1 434 1360A11 11 0 0 1 420 1358A11 11 0 0 1 408 1352A11 11 0 0 1 404 1338A11 11 0 0 1 400 1324A11 11 0 0 1 396 1310A11 11 0 0 1 392 1296A11 11 0 0 1 386 1284A11 11 0 0 1 382 1270A11 11 0 0 1 385 1256A11 11 0 0 1 393 1246A11 11 0 0 1 392 1232A11 11 0 0 1 388 1218A11 11 0 0 1 388 1204A11 11 0 0 1 386 1190A11 11 0 0 1 388 1176A11 11 0 0 1 390 1160Z"/>
<path d="M390 1181A12 12 0 0 1 417 1166A12 12 0 0 1 449 1168A12 12 0 0 1 471 1170A12 12 0 0 1 498 1181A12 12 0 0 1 520 1194M395 1247A14 14 0 0 1 433 1243A14 14 0 0 1 482 1247A12 12 0 0 1 509 1250M425 1160Q432 1180 440 1175M428 1195Q432 1220 450 1232L458 1245"/>
<path d="M451 1267Q465 1320 475 1340L490 1350L509 1418M440 1367Q445 1385 447 1418M470 1270Q485 1300 488 1360M490 1245V1360M452 1365L456 1418M489 1360L470 1380L460 1372M465 1372L470 1418"/>
<path class="n" d="M420 1290q3 6 0 10M450 1260q4 8 3 18M487 1300q-3 10 0 20M440 1310q-4 10 0 20M375 1285v6M378 1305v4M385 1370v8M378 1395q1 5 5 4M192 1395q3 4 5 0"/>
<!-- bird -->
<path class="f" d="M506 1157Q512 1152 520 1155L528 1155L540 1148L560 1145L552 1155L545 1162L546 1175L546 1190Q535 1180 530 1172Q515 1175 510 1165Z"/>
<path class="f" d="M499 1143L514 1144Q525 1148 528 1157L522 1158Q505 1155 499 1143Z"/>
<path d="M505 1159L502 1161L506 1163M536 1178L544 1188M508 1147L516 1152M545 1155L558 1147M545 1158L560 1150"/>
</g>
</svg>
</body></html>
